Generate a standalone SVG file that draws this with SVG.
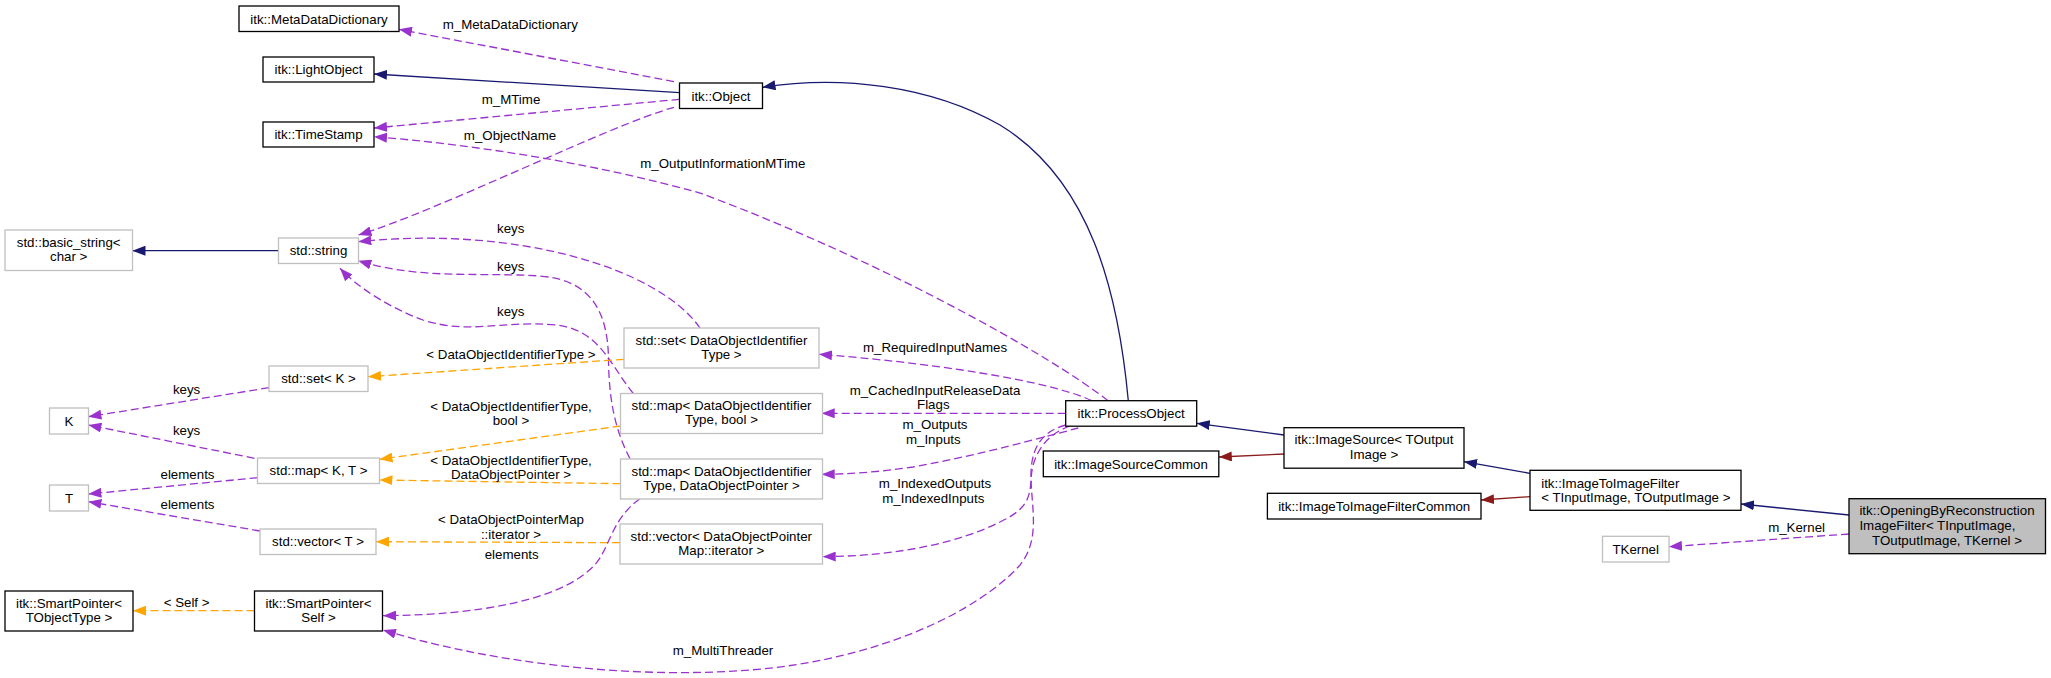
<svg xmlns="http://www.w3.org/2000/svg" width="2051" height="678" viewBox="0 0 2051 678">
<style>
text{font-family:"Liberation Sans",Arial,sans-serif;font-size:13.3px;fill:#000}
.c{text-anchor:middle}
.nb{fill:#fff;stroke:#000;stroke-width:1.3}
.ng{fill:#fff;stroke:#bfbfbf;stroke-width:1.3}
.nf{fill:#bfbfbf;stroke:#000;stroke-width:1.3}
.e{fill:none;stroke-width:1.3}
.inh{stroke:#191970;marker-end:url(#aN)}
.usr{stroke:#9a32cd;stroke-dasharray:8,4;marker-end:url(#aP)}
.tpl{stroke:#ffa500;stroke-dasharray:8,4;marker-end:url(#aO)}
.red{stroke:#8b1a1a;marker-end:url(#aR)}
</style>
<defs>
<marker id="aN" viewBox="0 0 13 10" refX="13" refY="5" markerWidth="13" markerHeight="10" markerUnits="userSpaceOnUse" orient="auto"><path d="M0,0 L13,5 L0,10 z" fill="#191970"/></marker>
<marker id="aP" viewBox="0 0 13 10" refX="13" refY="5" markerWidth="13" markerHeight="10" markerUnits="userSpaceOnUse" orient="auto"><path d="M0,0 L13,5 L0,10 z" fill="#9a32cd"/></marker>
<marker id="aO" viewBox="0 0 13 10" refX="13" refY="5" markerWidth="13" markerHeight="10" markerUnits="userSpaceOnUse" orient="auto"><path d="M0,0 L13,5 L0,10 z" fill="#ffa500"/></marker>
<marker id="aR" viewBox="0 0 13 10" refX="13" refY="5" markerWidth="13" markerHeight="10" markerUnits="userSpaceOnUse" orient="auto"><path d="M0,0 L13,5 L0,10 z" fill="#8b1a1a"/></marker>
</defs>
<rect width="2051" height="678" fill="#fff"/>
<g id="connectors">
<path class="e inh" d="M679.5,92.7 L374,74"/>
<path class="e usr" d="M674,81.7 L399,29.3"/>
<path class="e usr" d="M679.5,99.3 L374,128"/>
<path class="e usr" d="M674,107.3 C610,125 440,210 358.5,235"/>
<path class="e usr" d="M1108,400.7 C1050,355 880,260 700,193 C600,165 480,145 374,136.7"/>
<path class="e inh" d="M1128.3,400.7 C1118,290 1090,180 1000,125 C930,85 840,75 762.5,87.3"/>
<path class="e inh" d="M278.5,250.7 L132.5,250.7"/>
<path class="e usr" d="M700,328 C660,270 520,225 358.3,241.7"/>
<path class="e usr" d="M630,458.7 C615,430 609,400 608.5,360 C608,310 590,280 540,276 C480,272 420,280 358.3,260.7"/>
<path class="e usr" d="M633.3,393.5 C610,365 600,330 556,325 C500,320 470,335 423,320 C395,310 360,290 340,268.3"/>
<path class="e tpl" d="M624,359.3 L368,376.7"/>
<path class="e tpl" d="M620.5,426 L379.5,459.3"/>
<path class="e tpl" d="M620.5,483.7 L379.5,480"/>
<path class="e tpl" d="M620,542.7 L376,541.7"/>
<path class="e tpl" d="M254.5,610.7 L133,610.7"/>
<path class="e usr" d="M269,387.7 L88.4,416.7"/>
<path class="e usr" d="M254.5,458.3 L88.4,425"/>
<path class="e usr" d="M257.6,477.7 L88.4,494"/>
<path class="e usr" d="M260,531 L88.4,501.7"/>
<path class="e usr" d="M640,498.7 C610,520 610,550 593,566.7 C560,600 480,615 383,615.7"/>
<path class="e usr" d="M1065.7,425 C1040,432 1030,450 1031,480 C1032,510 1040,540 1020,565 C980,610 880,660 750,670 C620,680 480,660 383,630"/>
<path class="e usr" d="M1070,426 C1045,435 1032,455 1031,480 C1030,500 1025,510 1000,522 C960,542 900,556 822.7,556.7"/>
<path class="e usr" d="M1078.3,428 C1040,438 980,455 913,467 C880,472 850,474 821.7,474.3"/>
<path class="e usr" d="M1065.7,413.3 L821.7,413.3"/>
<path class="e usr" d="M1091.7,400.7 C1060,385 960,365 819,354.3"/>
<path class="e inh" d="M1284,435 L1196.7,423.3"/>
<path class="e red" d="M1284,454 L1218.8,457"/>
<path class="e inh" d="M1530,473.3 L1464,461.7"/>
<path class="e red" d="M1530,496.7 L1481,500"/>
<path class="e inh" d="M1849,515 L1741,504"/>
<path class="e usr" d="M1849,534 L1669,546.7"/>
<text class="c" x="510.3" y="28.7">m_MetaDataDictionary</text>
<text class="c" x="511" y="104">m_MTime</text>
<text class="c" x="510" y="140.4">m_ObjectName</text>
<text class="c" x="722.8" y="168">m_OutputInformationMTime</text>
<text class="c" x="510.7" y="233">keys</text>
<text class="c" x="510.7" y="271.4">keys</text>
<text class="c" x="510.7" y="316.4">keys</text>
<text class="c" x="511" y="359">&lt; DataObjectIdentifierType &gt;</text>
<text class="c" x="511" y="411.4">&lt; DataObjectIdentifierType,</text>
<text class="c" x="511" y="425.4">bool &gt;</text>
<text class="c" x="511" y="464.7">&lt; DataObjectIdentifierType,</text>
<text class="c" x="511" y="479">DataObjectPointer &gt;</text>
<text class="c" x="511" y="524">&lt; DataObjectPointerMap</text>
<text class="c" x="511" y="539">::iterator &gt;</text>
<text class="c" x="511.7" y="558.7">elements</text>
<text class="c" x="186.6" y="607.4">&lt; Self &gt;</text>
<text class="c" x="186.6" y="393.7">keys</text>
<text class="c" x="186.6" y="435.4">keys</text>
<text class="c" x="187.5" y="479">elements</text>
<text class="c" x="187.5" y="509">elements</text>
<text class="c" x="723" y="655.4">m_MultiThreader</text>
<text class="c" x="935" y="352.4">m_RequiredInputNames</text>
<text class="c" x="935" y="395.4">m_CachedInputReleaseData</text>
<text class="c" x="933.3" y="409">Flags</text>
<text class="c" x="935" y="429">m_Outputs</text>
<text class="c" x="933.3" y="444">m_Inputs</text>
<text class="c" x="935" y="488">m_IndexedOutputs</text>
<text class="c" x="933.3" y="503">m_IndexedInputs</text>
<text class="c" x="1796.6" y="532">m_Kernel</text>
</g>
<g id="n_MetaDataDictionary"><rect class="nb" x="239" y="6" width="160" height="25.5"/><text class="c" x="319" y="23.5">itk::MetaDataDictionary</text></g>
<g id="n_LightObject"><rect class="nb" x="263" y="57" width="111" height="25"/><text class="c" x="318.5" y="74.2">itk::LightObject</text></g>
<g id="n_TimeStamp"><rect class="nb" x="263" y="122" width="111" height="25"/><text class="c" x="318.5" y="139.2">itk::TimeStamp</text></g>
<g id="n_Object"><rect class="nb" x="679.5" y="83" width="83" height="25.5"/><text class="c" x="721" y="100.5">itk::Object</text></g>
<g id="n_basic_string"><rect class="ng" x="5" y="230" width="127.5" height="40.5"/><text class="c" x="68.7" y="246.5">std::basic_string&lt;</text><text class="c" x="68.7" y="260.8">char &gt;</text></g>
<g id="n_string"><rect class="ng" x="278.5" y="238" width="80" height="25.5"/><text class="c" x="318.5" y="255.4">std::string</text></g>
<g id="n_setK"><rect class="ng" x="269" y="366" width="99" height="25.5"/><text class="c" x="318.5" y="383.4">std::set&lt; K &gt;</text></g>
<g id="n_K"><rect class="ng" x="49.5" y="408" width="39" height="26"/><text class="c" x="69" y="425.7">K</text></g>
<g id="n_mapKT"><rect class="ng" x="257.5" y="458" width="122" height="25.5"/><text class="c" x="318.5" y="475.4">std::map&lt; K, T &gt;</text></g>
<g id="n_T"><rect class="ng" x="49.5" y="485" width="39" height="26"/><text class="c" x="69" y="502.7">T</text></g>
<g id="n_vectorT"><rect class="ng" x="260" y="529" width="116" height="25.5"/><text class="c" x="318" y="546.4">std::vector&lt; T &gt;</text></g>
<g id="n_SmartPointerT"><rect class="nb" x="5" y="591" width="128" height="40"/><text class="c" x="69" y="607.5">itk::SmartPointer&lt;</text><text class="c" x="69" y="621.8">TObjectType &gt;</text></g>
<g id="n_SmartPointerSelf"><rect class="nb" x="254.5" y="591" width="128" height="40"/><text class="c" x="318.5" y="607.5">itk::SmartPointer&lt;</text><text class="c" x="318.5" y="621.8">Self &gt;</text></g>
<g id="n_setDOI"><rect class="ng" x="624" y="328" width="195" height="40"/><text class="c" x="721.5" y="344.5">std::set&lt; DataObjectIdentifier</text><text class="c" x="721.5" y="358.8">Type &gt;</text></g>
<g id="n_mapBool"><rect class="ng" x="620.5" y="393.5" width="202" height="40"/><text class="c" x="721.5" y="410">std::map&lt; DataObjectIdentifier</text><text class="c" x="721.5" y="424.3">Type, bool &gt;</text></g>
<g id="n_mapDOP"><rect class="ng" x="620.5" y="459" width="202" height="40"/><text class="c" x="721.5" y="475.5">std::map&lt; DataObjectIdentifier</text><text class="c" x="721.5" y="489.8">Type, DataObjectPointer &gt;</text></g>
<g id="n_vectorDOP"><rect class="ng" x="620" y="524" width="202.5" height="40"/><text class="c" x="721.3" y="540.5">std::vector&lt; DataObjectPointer</text><text class="c" x="721.3" y="554.8">Map::iterator &gt;</text></g>
<g id="n_ProcessObject"><rect class="nb" x="1065.7" y="400.7" width="131" height="25.5"/><text class="c" x="1131.2" y="418.1">itk::ProcessObject</text></g>
<g id="n_ImageSourceCommon"><rect class="nb" x="1043.3" y="451" width="175.5" height="25.7"/><text class="c" x="1131" y="468.5">itk::ImageSourceCommon</text></g>
<g id="n_ImageSource"><rect class="nb" x="1284" y="427.7" width="180" height="40.5"/><text class="c" x="1374" y="444.2">itk::ImageSource&lt; TOutput</text><text class="c" x="1374" y="458.5">Image &gt;</text></g>
<g id="n_ImageToImageFilterCommon"><rect class="nb" x="1267.4" y="493.3" width="213.6" height="25.7"/><text class="c" x="1374.2" y="510.8">itk::ImageToImageFilterCommon</text></g>
<g id="n_ImageToImageFilter"><rect class="nb" x="1530" y="470.3" width="211" height="40"/><text x="1541.2" y="487.8">itk::ImageToImageFilter</text><text x="1541.2" y="501.6">&lt; TInputImage, TOutputImage &gt;</text></g>
<g id="n_Opening"><rect class="nf" x="1849" y="498.7" width="196.5" height="55"/><text x="1859.4" y="515.4">itk::OpeningByReconstruction</text><text x="1859.4" y="530.4">ImageFilter&lt; TInputImage,</text><text class="c" x="1947" y="545.4">TOutputImage, TKernel &gt;</text></g>
<g id="n_TKernel"><rect class="ng" x="1602.5" y="536.3" width="66.5" height="25.7"/><text class="c" x="1635.7" y="553.9">TKernel</text></g>
</svg>
